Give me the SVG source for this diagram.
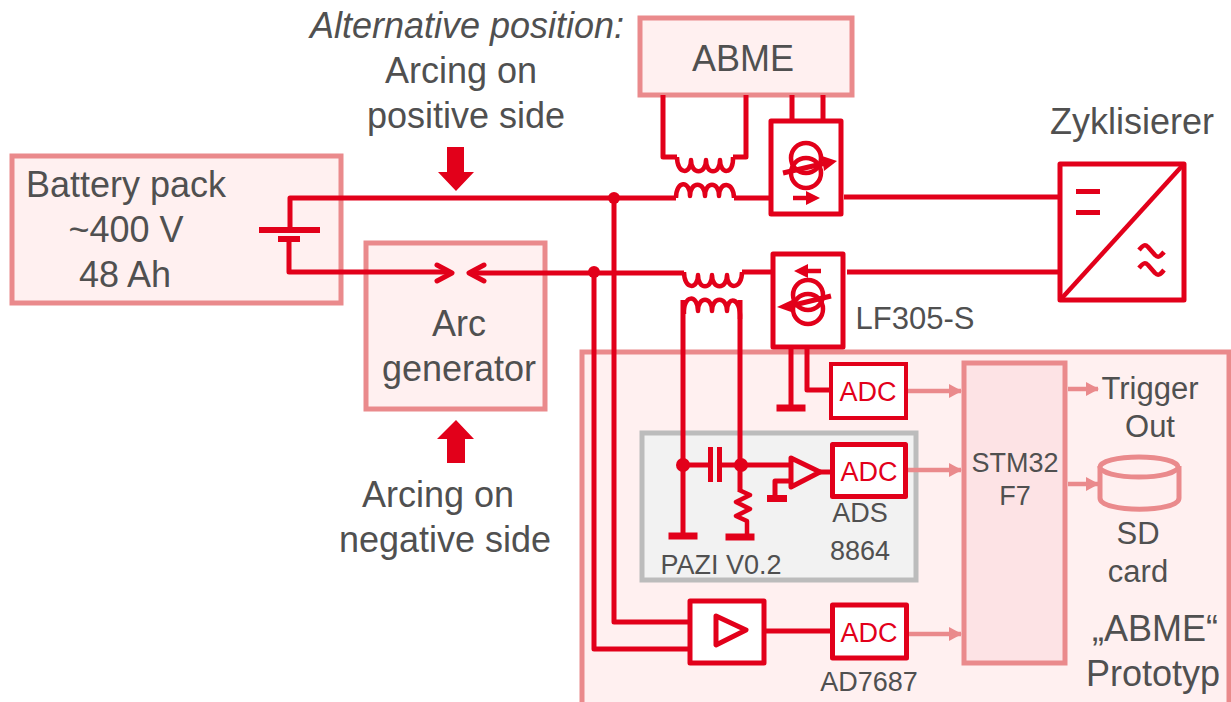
<svg xmlns="http://www.w3.org/2000/svg" width="1231" height="702" viewBox="0 0 1231 702">
<style>
text{font-family:"Liberation Sans",Arial,sans-serif;fill:#505050;text-anchor:middle}
.t{font-size:36px}.m{font-size:31px}.s{font-size:27px}
.adc{font-size:27px;fill:#e2001a}
.pb{fill:#fff0f0;stroke:#ea8a8c;stroke-width:5}
.w{fill:none;stroke:#e2001a;stroke-width:5;stroke-linejoin:round}
.n{fill:none;stroke:#e2001a;stroke-width:4.5;stroke-linejoin:round}
.r{fill:#fff;stroke:#e2001a;stroke-width:5;stroke-linejoin:round}
.p{fill:none;stroke:#ea8a8c;stroke-width:4.5}
.f{fill:#e2001a}
</style>
<defs>
<marker id="pa" markerUnits="userSpaceOnUse" markerWidth="13" markerHeight="14" refX="12" refY="7" orient="auto"><path d="M0 0L13 7L0 14Z" fill="#ea8a8c"/></marker>
<g id="gnd"><rect x="-14.500" y="-3.500" width="29" height="7" class="f"/></g>
</defs>

<g id="prototype"><rect class="pb" x="582" y="352" width="647" height="360"/></g>
<g id="pazi"><rect x="642" y="433" width="274" height="147" fill="#f2f2f2" stroke="#bcbcbc" stroke-width="5"/></g>
<g id="battery"><rect class="pb" x="12" y="156" width="329" height="147"/>
<text class="t" x="126" y="197">Battery pack</text><text class="t" x="126" y="242">~400 V</text><text class="t" x="125" y="287">48 Ah</text></g>
<g id="arc-generator"><rect class="pb" x="366" y="243" width="179" height="166"/>
<text class="t" x="459" y="336">Arc</text><text class="t" x="459" y="381">generator</text></g>
<g id="abme"><rect class="pb" x="640" y="18" width="212" height="77"/><text class="t" x="743" y="71">ABME</text></g>

<g id="connectors">
<path class="w" d="M290 228V198H676"/>
<path class="w" d="M734 198H771"/>
<path class="w" d="M844 197H1060"/>
<path class="w" d="M289 242V272H450"/>
<path class="w" d="M470 273H684"/>
<path class="w" d="M742 272H773"/>
<path class="w" d="M847 272H1060"/>
<path class="w" d="M614 198V622H690"/>
<path class="w" d="M594 272V649H690"/>
<path class="w" d="M663 95V157H677"/>
<path class="w" d="M746 95V157H733"/>
<path class="w" d="M792 95V121M823 95V121"/>
<path class="w" d="M683 300V535"/>
<path class="w" d="M740 300V492"/>
<path class="w" d="M791 347V408"/>
<path class="w" d="M807 347V390H832"/>
<path class="w" d="M683 465H709M722 465H790"/>
<path class="w" d="M764 631H832"/>
<path class="w" d="M775 495V481H790"/>
<path class="n" d="M677 157c0 18 14 18 14 3c0 15 15 15 15 0c0 15 14 15 14 0c0 15 14 15 13 -3"/>
<path class="n" d="M676 198c0 -18 14 -18 14 -2c0 -15 15 -15 15 0c0 -15 14 -15 14 0c0 -15 15 -15 15 2"/>
<path class="n" d="M684 272c0 18 14 18 14 3c0 15 14 15 14 0c0 15 15 15 15 0c0 15 15 15 15 -3"/>
<path class="n" d="M684 314c-1 -20 14 -20 14 -3c0 -15 14 -15 14 0c0 -15 15 -15 15 0c0 -15 14 -15 13 8"/>
<path class="n" d="M739 490l11 5l-14 7l14 7l-14 7l11 5V535"/>
<path class="p" d="M905 391H961" marker-end="url(#pa)"/>
<path class="p" d="M908 470H961" marker-end="url(#pa)"/>
<path class="p" d="M908 634H961" marker-end="url(#pa)"/>
<path class="p" d="M1068 389H1098" marker-end="url(#pa)"/>
<path class="p" d="M1068 484H1098" marker-end="url(#pa)"/>
</g>

<g id="battery-symbol"><rect class="f" x="259" y="227" width="61" height="6"/><rect class="f" x="278" y="236" width="22" height="6"/></g>
<g id="arc-arrows">
<path class="w" stroke-linecap="round" d="M437 265L452 273L437 281"/>
<path class="w" stroke-linecap="round" d="M484 265L469 273L484 281"/>
</g>
<g id="arc-positive"><path class="f" d="M447 147H464V172H474L456 191L438 172H447Z"/></g>
<g id="arc-negative"><path class="f" d="M447 463H465V439H474L456 420L437 439H447Z"/></g>
<g id="junctions">
<circle class="f" cx="614" cy="198" r="6"/><circle class="f" cx="594" cy="272" r="6"/>
<circle class="f" cx="683" cy="465" r="7"/><circle class="f" cx="741" cy="465" r="7"/>
</g>
<g id="grounds">
<use href="#gnd" x="791" y="408"/><use href="#gnd" x="683" y="536"/><use href="#gnd" x="740" y="537"/>
<rect class="f" x="767" y="495" width="20" height="7"/>
</g>
<g id="capacitor"><rect class="f" x="708" y="447" width="5" height="35"/><rect class="f" x="717" y="447" width="5" height="35"/></g>
<g id="opamp"><path fill="none" stroke="#e2001a" stroke-width="5" stroke-linejoin="round" d="M791 458L820 472L791 487Z"/><path class="w" d="M820 472H832"/></g>

<g id="sensor-top"><rect class="r" x="771" y="121" width="70" height="93"/>
<circle class="n" cx="806" cy="158" r="15"/><circle class="n" cx="806" cy="173" r="15"/>
<path class="w" d="M783 173L826 163"/><path class="f" d="M822 156L837 161L824 171Z"/>
<path class="n" d="M793 198H812"/><path class="f" d="M806 191L820 198L806 205Z"/></g>
<g id="sensor-bottom"><rect class="r" x="773" y="254" width="70" height="93"/>
<circle class="n" cx="808" cy="295" r="15"/><circle class="n" cx="808" cy="309" r="15"/>
<path class="w" d="M831 296L790 306"/><path class="f" d="M792 300L777 307L794 313Z"/>
<path class="n" d="M821 271H802"/><path class="f" d="M808 264L794 271L808 278Z"/></g>

<g id="converter"><rect class="r" x="1060" y="164" width="124" height="136"/>
<path class="n" d="M1062 298L1182 166"/>
<rect class="f" x="1076" y="189" width="24" height="5"/><rect class="f" x="1076" y="210" width="24" height="5"/>
<path class="n" d="M1139 250c4 -5 6 -6 9 -3l7 8c3 3 5 2 9 -3"/><path class="n" d="M1139 268c4 -5 6 -6 9 -3l7 8c3 3 5 2 9 -3"/></g>

<g id="adc1"><rect x="831" y="364" width="75" height="54" fill="#fff" stroke="#e2001a" stroke-width="4"/><text class="adc" x="868" y="401">ADC</text></g>
<g id="adc2"><rect class="r" x="832.500" y="444.500" width="73" height="52"/><text class="adc" x="869" y="481">ADC</text></g>
<g id="adc3"><rect class="r" x="832.500" y="605" width="74" height="53"/><text class="adc" x="869" y="642">ADC</text></g>
<g id="amp"><rect class="r" x="690" y="601" width="74" height="62"/><path fill="none" stroke="#e2001a" stroke-width="5" stroke-linejoin="round" d="M716 616L746 630L716 645Z"/></g>
<g id="stm32"><rect x="964" y="363" width="101" height="300" fill="#fde3e5" stroke="#ea8a8c" stroke-width="5"/>
<text class="s" x="1015" y="472">STM32</text><text class="s" x="1015" y="505">F7</text></g>
<g id="sd-card"><path d="M1100 466V498C1100 513 1179 513 1179 498V466" fill="#fff0f0" stroke="#ea8a8c" stroke-width="5"/><ellipse cx="1139" cy="467" rx="39" ry="10" fill="#fff0f0" stroke="#ea8a8c" stroke-width="5"/></g>

<g id="labels">
<text class="t" x="467" y="38" style="font-style:italic">Alternative position:</text>
<text class="t" x="461" y="83">Arcing on</text><text class="t" x="466" y="128">positive side</text>
<text class="t" x="1132" y="134">Zyklisierer</text>
<text class="m" x="915" y="329">LF305-S</text>
<text class="t" x="438" y="507">Arcing on</text><text class="t" x="445" y="552">negative side</text>
<text class="s" x="860" y="522">ADS</text><text class="s" x="860" y="560">8864</text>
<text class="s" x="721" y="574">PAZI V0.2</text>
<text class="s" x="869" y="691">AD7687</text>
<text class="m" x="1150" y="399">Trigger</text><text class="m" x="1150" y="437">Out</text>
<text class="m" x="1138" y="544">SD</text><text class="m" x="1138" y="582">card</text>
<text class="t" x="1155" y="641">„ABME“</text><text class="t" x="1153" y="686">Prototyp</text>
</g>
</svg>
